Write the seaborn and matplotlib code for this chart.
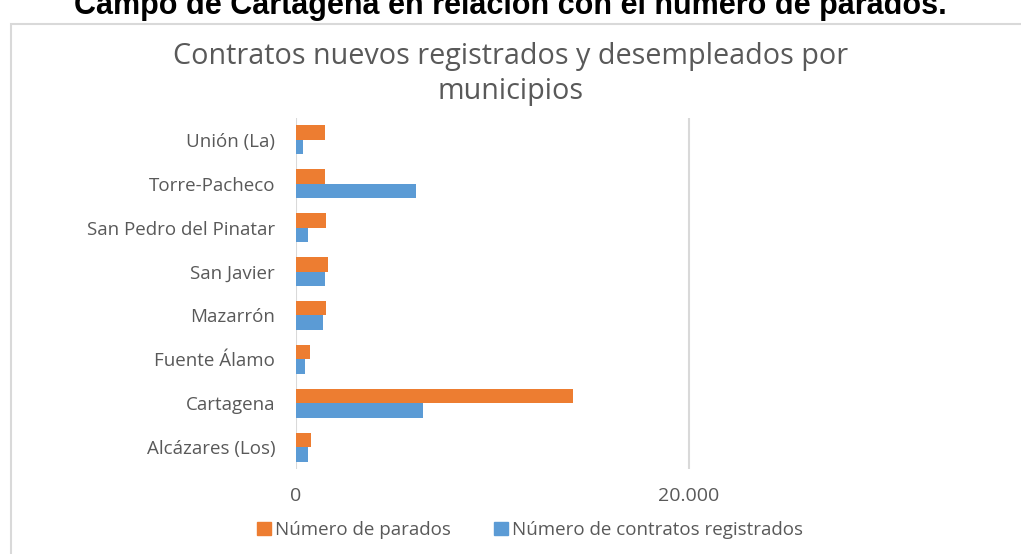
import pandas as pd
import seaborn as sns
import matplotlib.pyplot as plt
from matplotlib.patches import Rectangle, Patch

municipios = ["Unión (La)", "Torre-Pacheco", "San Pedro del Pinatar", "San Javier",
              "Mazarrón", "Fuente Álamo", "Cartagena", "Alcázares (Los)"]
parados = [1490, 1460, 1540, 1610, 1540, 690, 14080, 745]
contratos = [370, 6100, 630, 1475, 1350, 440, 6480, 630]
series = ["Número de parados", "Número de contratos registrados"]
colores = ["#ED7D31", "#5B9BD5"]

df = pd.DataFrame({
    "municipio": municipios * 2,
    "valor": parados + contratos,
    "serie": [series[0]] * len(municipios) + [series[1]] * len(municipios),
})

sns.set_style("white")
plt.rcParams["font.family"] = ["Open Sans", "DejaVu Sans"]
grey = "#595959"
W, H = 1021, 554

fig = plt.figure(figsize=(W / 100, H / 100), dpi=100)
# chart frame (cut by the image on the right and bottom)
fig.patches.append(Rectangle((11 / W, -0.1), 1.2, 1 - 24 / H + 0.1, transform=fig.transFigure,
                             fill=False, edgecolor="#D9D9D9", linewidth=1.5))
ax = fig.add_axes([296 / W, 1 - 469 / H, 1 - 296 / W, (469 - 118) / H])

sns.barplot(data=df, x="valor", y="municipio", hue="serie", hue_order=series,
            order=municipios, palette=colores, width=0.66, orient="h",
            saturation=1, linewidth=0, ax=ax, legend=False)

ax.set_xlim(0, 36900)
ax.set_xticks([0, 20000])
ax.set_xticklabels(["0", "20.000"])
ax.xaxis.grid(True, color="#D9D9D9", linewidth=1.5)
ax.set_axisbelow(True)
for s in ax.spines.values():
    s.set_visible(False)
ax.set_xlabel("")
ax.set_ylabel("")
ax.tick_params(axis="y", length=0, pad=15, labelsize=13.5, labelcolor=grey)
ax.tick_params(axis="x", length=0, pad=13, labelsize=14, labelcolor=grey)

fig.text(0.5, 1 - 64 / H, "Contratos nuevos registrados y desempleados por",
         ha="center", va="baseline", fontsize=20.7, color=grey)
fig.text(0.5, 1 - 99 / H, "municipios", ha="center", va="baseline", fontsize=20.7, color=grey)

fig.text(0.5, 1 - 14 / H, "Campo de Cartagena en relación con el número de parados.",
         ha="center", va="baseline", fontsize=22, fontweight="bold",
         family="Liberation Sans", color="black")

handles = [Patch(facecolor=c, edgecolor=c) for c in colores]
fig.legend(handles, series, loc="center", bbox_to_anchor=(530 / W, 1 - 530 / H), ncol=2,
           frameon=False, fontsize=13.5, labelcolor=grey, handlelength=0.75, handleheight=0.75,
           handletextpad=0.2, columnspacing=2.3, borderpad=0)

fig.savefig("out.png", dpi=100)
